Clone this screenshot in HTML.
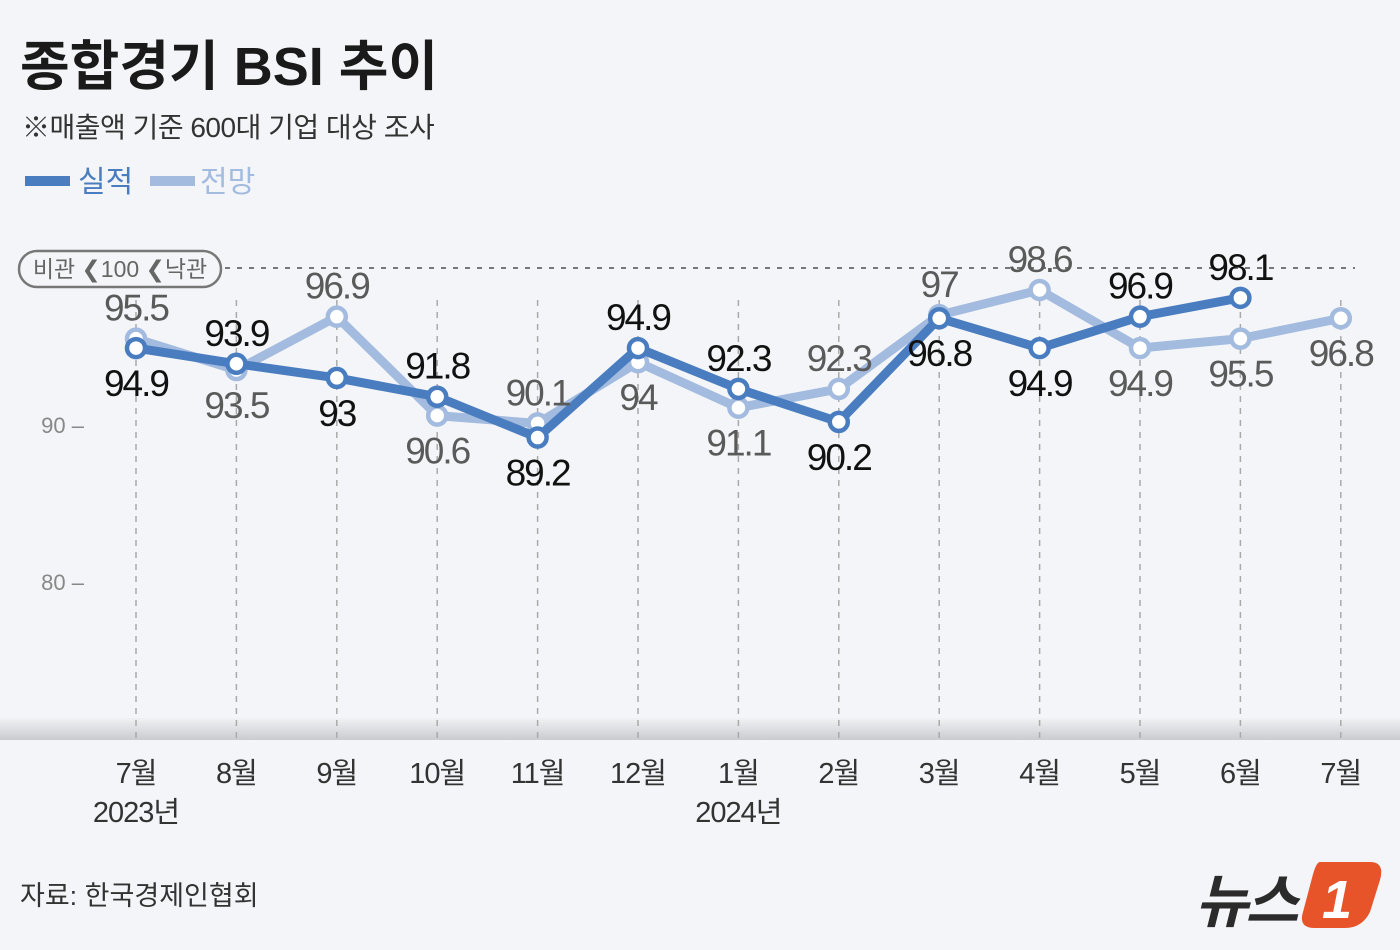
<!DOCTYPE html>
<html><head><meta charset="utf-8">
<style>
html,body{margin:0;padding:0;width:1400px;height:950px;overflow:hidden;background:#f4f5f8;font-family:"Liberation Sans","Noto Sans CJK KR",sans-serif;}
svg{position:absolute;left:0;top:0}
</style></head>
<body>
<svg id="chart" width="1400" height="950" xmlns="http://www.w3.org/2000/svg">
<defs>
<linearGradient id="band" x1="0" y1="0" x2="0" y2="1">
<stop offset="0" stop-color="#f1f2f4"/><stop offset="1" stop-color="#c9cbcf"/>
</linearGradient>
</defs>
<rect x="0" y="718" width="1400" height="22" fill="url(#band)"/>
<text x="20" y="85" font-size="54" font-weight="bold" fill="#1a1a1a" letter-spacing="0">종합경기 BSI 추이</text>
<text x="22" y="137" font-size="28" fill="#333" letter-spacing="-0.5">※매출액 기준 600대 기업 대상 조사</text>
<g>
<rect x="25" y="176" width="45" height="10" fill="#4a7dbf"/>
<text x="78" y="192" font-size="30" fill="#4a7dbf">실적</text>
<rect x="150" y="176" width="45" height="10" fill="#a2bbdf"/>
<text x="200" y="192" font-size="30" fill="#a2bbdf">전망</text>
</g>
<g id="grid"></g>
<g>
<rect x="19" y="251" width="202" height="36" rx="18" fill="#f4f5f8" stroke="#777" stroke-width="2.5"/>
<text x="120" y="277" font-size="23" fill="#666" text-anchor="middle">비관 ❮100 ❮낙관</text>
</g>
<g id="series"></g>
<text x="20" y="905" font-size="27" fill="#333">자료: 한국경제인협회</text>
<g>
<text x="1195" y="922" font-size="58" font-weight="bold" font-style="italic" fill="#2b2b2b" letter-spacing="-3">뉴스</text>
<path d="M1320 862 H1370 Q1385 862 1380 880 L1370 912 Q1362 928 1345 928 H1315 Q1298 928 1303 912 L1312 878 Q1316 862 1320 862Z" fill="#e8542a"/>
<text x="1322" y="918" font-size="54" font-weight="bold" font-style="italic" fill="#fff">1</text>
</g>
</svg>
<script>
const months = ['7월','8월','9월','10월','11월','12월','1월','2월','3월','4월','5월','6월','7월'];
const yearLabels = ['2023년','','','','','','2024년','','','','','',''];
const actual = [94.9,93.9,93,91.8,89.2,94.9,92.3,90.2,96.8,94.9,96.9,98.1];
const forecast = [95.5,93.5,96.9,90.6,90.1,94,91.1,92.3,97,98.6,94.9,95.5,96.8];
const actualLabelPos = ['b','a','b','a','b','a','a','b','b','b','a','a'];
const forecastLabelPos = ['a','b','a','b','a','b','b','a','a','a','b','b','b'];
const yTicks = [80,90];

const NS='http://www.w3.org/2000/svg';
const X=i=>136+i*100.4;
const Y=v=>425-(v-90)*15.7;
function mk(tag,attrs,parent){const e=document.createElementNS(NS,tag);for(const k in attrs)e.setAttribute(k,attrs[k]);parent.appendChild(e);return e;}
const grid=document.getElementById('grid'), ser=document.getElementById('series');

months.forEach((m,i)=>{
  const l=mk('line',{x1:X(i),x2:X(i),y1:300,y2:740,stroke:'#aaa','stroke-width':1.5,'stroke-dasharray':'6 6'},grid);
  
  
  const t=mk('text',{x:X(i),y:783,'font-size':29,fill:'#333','text-anchor':'middle','letter-spacing':'-1'},grid);
  t.textContent=m;
  
  
  if(yearLabels[i]){
    const y=mk('text',{x:X(i),y:822,'font-size':29,fill:'#333','text-anchor':'middle','letter-spacing':'-1'},grid);
    y.textContent=yearLabels[i];
    
    
  }
});
yTicks.forEach(v=>{
  const t=mk('text',{x:84,y:Y(v)+8,'font-size':22,fill:'#888','text-anchor':'end'},grid);
  t.textContent=v+' –';
  
  
});
const ref=mk('line',{x1:225,x2:1355,y1:Y(100),y2:Y(100),stroke:'#777','stroke-width':2,'stroke-dasharray':'5 7'},grid);



function drawSeries(vals,color,name){
  const g=mk('g',{},ser);
  
  
  const p=mk('polyline',{points:vals.map((v,i)=>X(i)+','+Y(v)).join(' '),fill:'none',stroke:color,'stroke-width':9,'stroke-linejoin':'round'},g);
  
  
  vals.forEach((v,i)=>{
    const c=mk('circle',{cx:X(i),cy:Y(v),r:9,fill:'#fff',stroke:color,'stroke-width':4.5},g);
    
    
  });
}
function drawLabels(vals,labelPos,labelColor,name){
  vals.forEach((v,i)=>{
    const ty=labelPos[i]==='a'?Y(v)-18:Y(v)+48;
    const t=mk('text',{x:X(i),y:ty,'font-size':37,fill:labelColor,'text-anchor':'middle','letter-spacing':'-2'},ser);
    t.textContent=String(v);
    
    
  });
}
drawSeries(forecast,'#a2bbdf','forecast');
drawSeries(actual,'#4a7dbf','actual');
drawLabels(forecast,forecastLabelPos,'#5a5a5a','forecast');
drawLabels(actual,actualLabelPos,'#111','actual');
</script>
</body></html>
